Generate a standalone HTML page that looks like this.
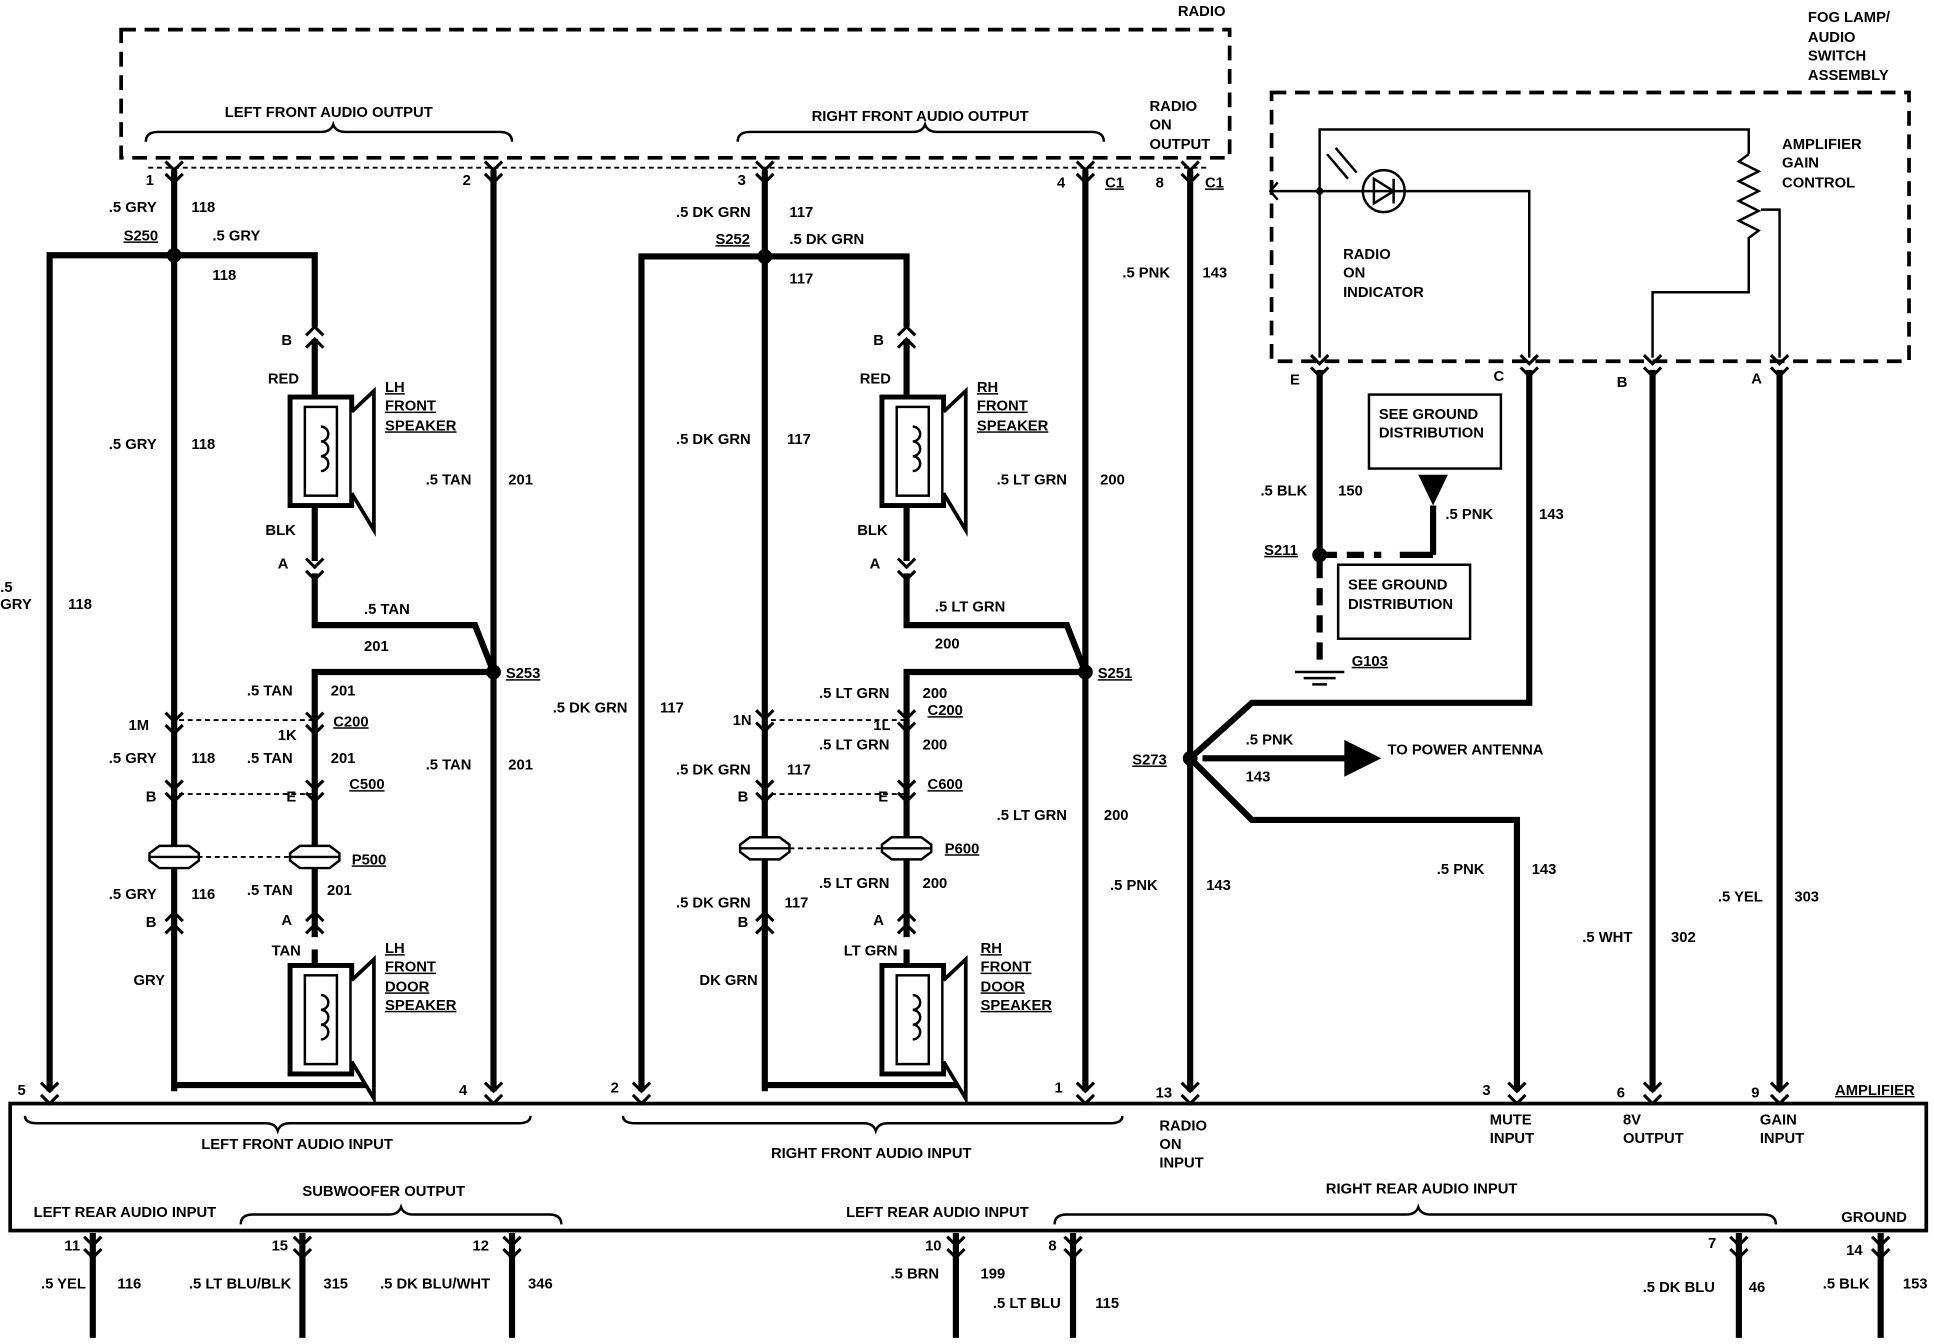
<!DOCTYPE html>
<html><head><meta charset="utf-8"><style>
html,body{margin:0;padding:0;background:#fff;}
svg{display:block}
text{font-family:"Liberation Sans",sans-serif;font-weight:bold;font-size:12px;fill:#000}
text.u{text-decoration:underline}
</style></head><body>
<svg width="1934" height="1344" viewBox="0 0 1568 1090" xmlns="http://www.w3.org/2000/svg">
<defs>
<g id="ch"><path d="M-7,-7 L0,0 L7,-7 M-7,3 L0,10 L7,3" fill="none" stroke="#000" stroke-width="2.5"/></g>
<g id="cu"><path d="M-7,7 L0,0 L7,7 M-7,-3 L0,-10 L7,-3" fill="none" stroke="#000" stroke-width="2.5"/></g>
<g id="spk"><rect x="0" y="0" width="50" height="88" fill="#fff" stroke="#000" stroke-width="4"/><rect x="12" y="8" width="26" height="72" fill="none" stroke="#000" stroke-width="2"/><path d="M25,24 a6,6 0 1 1 0,12 a6,6 0 1 1 0,12 a6,6 0 1 1 0,12" fill="none" stroke="#000" stroke-width="2"/><path d="M50,12 L68,-5 L68,108 L50,78" fill="#fff" stroke="#000" stroke-width="3"/></g>
<g id="plug"><path d="M-20,-3 L-12,-9 L12,-9 L20,-3 L20,3 L12,9 L-12,9 L-20,3 Z" fill="#fff" stroke="#000" stroke-width="2"/><line x1="-20" y1="0" x2="20" y2="0" stroke="#000" stroke-width="2"/></g>
</defs>
<g fill="none" stroke="#000" stroke-dasharray="12,7" stroke-width="3">
<rect x="98" y="24" width="899" height="104"/>
<rect x="1031" y="75" width="517" height="218"/>
</g>
<rect x="8" y="895" width="1554" height="103" fill="none" stroke="#000" stroke-width="3"/>
<g fill="none" stroke="#000" stroke-width="1.5" stroke-dasharray="4,3">
<line x1="120" y1="136" x2="980" y2="136"/>
<line x1="145" y1="584" x2="255" y2="584"/><line x1="145" y1="644" x2="255" y2="644"/><line x1="160" y1="695" x2="235" y2="695"/>
<line x1="625" y1="584" x2="735" y2="584"/><line x1="625" y1="644" x2="735" y2="644"/><line x1="640" y1="688" x2="715" y2="688"/>
</g>
<g fill="none" stroke="#000" stroke-width="5">
<line x1="141" y1="138" x2="141" y2="885"/><path d="M40,885 V207 H255 V265"/><line x1="255" y1="275" x2="255" y2="320"/><line x1="255" y1="410" x2="255" y2="455"/>
<path d="M255,465 V507 H385 L400,545"/><line x1="400" y1="138" x2="400" y2="885"/><path d="M400,545 H255 V760"/><path d="M255,770 V785"/><path d="M141,880 H300"/>
<line x1="620" y1="138" x2="620" y2="885"/><path d="M520,885 V208 H735 V265"/><line x1="735" y1="275" x2="735" y2="320"/><line x1="735" y1="410" x2="735" y2="455"/>
<path d="M735,465 V507 H865 L880,545"/><line x1="880" y1="138" x2="880" y2="885"/><path d="M880,545 H735 V760"/><path d="M735,770 V785"/><path d="M620,880 H780"/>
<line x1="965" y1="138" x2="965" y2="885"/>
<path d="M965,615 L1015,570 H1240 V300"/><path d="M965,615 L1015,665 H1230 V885"/><path d="M975,615 H1095"/>
<line x1="1070" y1="300" x2="1070" y2="450"/><line x1="1340" y1="300" x2="1340" y2="885"/><line x1="1443" y1="300" x2="1443" y2="885"/>
<line x1="1162" y1="410" x2="1162" y2="450"/><line x1="1162" y1="450" x2="1135" y2="450"/>
<line x1="75" y1="1000" x2="75" y2="1085"/><line x1="245" y1="1000" x2="245" y2="1085"/><line x1="415" y1="1000" x2="415" y2="1085"/>
<line x1="775" y1="1000" x2="775" y2="1085"/><line x1="870" y1="1000" x2="870" y2="1085"/><line x1="1410" y1="1000" x2="1410" y2="1085"/><line x1="1525" y1="1000" x2="1525" y2="1085"/>
</g>
<path d="M1090,600 L1120,615 L1090,630 Z"/>
<path d="M1070,450 H1120" stroke="#000" stroke-width="5" stroke-dasharray="14,8"/>
<path d="M1070,455 V540" stroke="#000" stroke-width="5" stroke-dasharray="14,8"/>
<path d="M1150,385 L1174,385 L1162,410 Z"/>
<path d="M1050,545 H1090 M1057,550 H1083 M1064,555 H1076" stroke="#000" stroke-width="2"/>
<rect x="1110" y="320" width="107" height="60" fill="#fff" stroke="#000" stroke-width="2"/>
<rect x="1085" y="458" width="107" height="60" fill="#fff" stroke="#000" stroke-width="2"/>
<g fill="none" stroke="#000" stroke-width="2">
<path d="M1070,290 V155 H1030 M1036,148 L1030,155 L1036,162"/><path d="M1070,155 V105 H1418 V125"/><path d="M1070,155 H1240 V290"/>
<path d="M1418,125 l-8,6 l16,8 l-16,8 l16,8 l-16,8 l16,8 l-16,8 l16,8 l-8,6 V237 H1340 V290"/><path d="M1428,170 H1443 V290"/>
<circle cx="1122" cy="155" r="17"/><path d="M1114,145 V165 L1130,155 Z M1130,145 V165"/><path d="M1100,140 L1083,120 M1093,145 L1076,125"/>
</g>
<circle cx="1070" cy="155" r="3"/>
<g>
<circle cx="141" cy="207" r="6"/><circle cx="400" cy="545" r="6"/><circle cx="620" cy="208" r="6"/><circle cx="880" cy="545" r="6"/><circle cx="965" cy="615" r="6"/><circle cx="1070" cy="450" r="6"/>
</g>
<use href="#spk" x="235" y="322"/><use href="#spk" x="235" y="783"/><use href="#spk" x="715" y="322"/><use href="#spk" x="715" y="783"/>
<use href="#plug" x="141" y="695"/><use href="#plug" x="255" y="695"/><use href="#plug" x="620" y="688"/><use href="#plug" x="735" y="688"/>
<g>
<use href="#ch" x="141" y="138"/><use href="#ch" x="400" y="138"/><use href="#ch" x="620" y="138"/><use href="#ch" x="880" y="138"/><use href="#ch" x="965" y="138"/>
<use href="#cu" x="255" y="275"/><use href="#ch" x="255" y="460"/><use href="#cu" x="735" y="275"/><use href="#ch" x="735" y="460"/>
<use href="#ch" x="141" y="585"/><use href="#ch" x="255" y="585"/><use href="#ch" x="141" y="640"/><use href="#ch" x="255" y="640"/>
<use href="#cu" x="141" y="750"/><use href="#cu" x="255" y="750"/>
<use href="#ch" x="620" y="583"/><use href="#ch" x="735" y="583"/><use href="#ch" x="620" y="640"/><use href="#ch" x="735" y="640"/>
<use href="#cu" x="620" y="750"/><use href="#cu" x="735" y="750"/>
<use href="#ch" x="40" y="885"/><use href="#ch" x="400" y="885"/><use href="#ch" x="520" y="885"/><use href="#ch" x="880" y="885"/><use href="#ch" x="965" y="885"/><use href="#ch" x="1230" y="885"/><use href="#ch" x="1340" y="885"/><use href="#ch" x="1443" y="885"/>
<use href="#ch" x="1070" y="295"/><use href="#ch" x="1240" y="295"/><use href="#ch" x="1340" y="295"/><use href="#ch" x="1443" y="295"/>
<use href="#ch" x="75" y="1010"/><use href="#ch" x="245" y="1010"/><use href="#ch" x="415" y="1010"/><use href="#ch" x="775" y="1010"/><use href="#ch" x="870" y="1010"/><use href="#ch" x="1410" y="1010"/><use href="#ch" x="1525" y="1010"/>
</g>
<g fill="none" stroke="#000" stroke-width="2">
<path d="M118,115 q0,-8 10,-8 H260 q8,0 10,-6 q2,6 10,6 H405 q10,0 10,8"/>
<path d="M598,115 q0,-8 10,-8 H740 q8,0 10,-6 q2,6 10,6 H885 q10,0 10,8"/>
<path d="M20,905 q0,6 10,6 H215 q8,0 10,6 q2,-6 10,-6 H420 q10,0 10,-6"/>
<path d="M505,905 q0,6 10,6 H700 q8,0 10,6 q2,-6 10,-6 H900 q10,0 10,-6"/>
<path d="M195,993 q0,-8 10,-8 H315 q8,0 10,-6 q2,6 10,6 H445 q10,0 10,8"/>
<path d="M855,993 q0,-8 10,-8 H1140 q8,0 10,-6 q2,6 10,6 H1430 q10,0 10,8"/>
</g>
<g>
<text x="955" y="13">RADIO</text>
<text x="1466" y="18">FOG LAMP/</text><text x="1466" y="34">AUDIO</text><text x="1466" y="49">SWITCH</text><text x="1466" y="65">ASSEMBLY</text>
<text x="182" y="95">LEFT FRONT AUDIO OUTPUT</text><text x="658" y="98">RIGHT FRONT AUDIO OUTPUT</text>
<text x="932" y="90">RADIO</text><text x="932" y="105">ON</text><text x="932" y="121">OUTPUT</text>
<text x="118" y="150">1</text><text x="375" y="150">2</text><text x="598" y="150">3</text><text x="857" y="152">4</text><text class="u" x="896" y="152">C1</text><text x="937" y="152">8</text><text class="u" x="977" y="152">C1</text>
<text x="88" y="172">.5 GRY</text><text x="155" y="172">118</text><text class="u" x="100" y="195">S250</text><text x="172" y="195">.5 GRY</text><text x="172" y="227">118</text>
<text x="548" y="176">.5 DK GRN</text><text x="640" y="176">117</text><text class="u" x="580" y="198">S252</text><text x="640" y="198">.5 DK GRN</text><text x="640" y="230">117</text>
<text x="910" y="225">.5 PNK</text><text x="975" y="225">143</text>
<text x="228" y="280">B</text><text x="708" y="280">B</text>
<text x="217" y="311">RED</text><text x="697" y="311">RED</text>
<text class="u" x="312" y="318">LH</text><text class="u" x="312" y="333">FRONT</text><text class="u" x="312" y="349">SPEAKER</text>
<text class="u" x="792" y="318">RH</text><text class="u" x="792" y="333">FRONT</text><text class="u" x="792" y="349">SPEAKER</text>
<text x="88" y="364">.5 GRY</text><text x="155" y="364">118</text><text x="548" y="360">.5 DK GRN</text><text x="638" y="360">117</text>
<text x="345" y="393">.5 TAN</text><text x="412" y="393">201</text><text x="808" y="393">.5 LT GRN</text><text x="892" y="393">200</text>
<text x="215" y="434">BLK</text><text x="695" y="434">BLK</text><text x="225" y="461">A</text><text x="705" y="461">A</text>
<text x="0" y="480">.5</text><text x="0" y="494">GRY</text><text x="55" y="494">118</text><text x="295" y="498">.5 TAN</text><text x="758" y="496">.5 LT GRN</text>
<text x="295" y="528">201</text><text x="758" y="526">200</text>
<text class="u" x="410" y="550">S253</text><text class="u" x="890" y="550">S251</text>
<text x="200" y="564">.5 TAN</text><text x="268" y="564">201</text><text x="664" y="566">.5 LT GRN</text><text x="748" y="566">200</text>
<text x="448" y="578">.5 DK GRN</text><text x="535" y="578">117</text>
<text x="104" y="592">1M</text><text class="u" x="270" y="589">C200</text><text x="225" y="600">1K</text><text x="594" y="588">1N</text><text class="u" x="752" y="580">C200</text><text x="708" y="592">1L</text>
<text x="88" y="619">.5 GRY</text><text x="155" y="619">118</text><text x="200" y="619">.5 TAN</text><text x="268" y="619">201</text>
<text x="548" y="628">.5 DK GRN</text><text x="638" y="628">117</text><text x="664" y="608">.5 LT GRN</text><text x="748" y="608">200</text>
<text x="345" y="624">.5 TAN</text><text x="412" y="624">201</text><text class="u" x="283" y="640">C500</text><text class="u" x="752" y="640">C600</text>
<text x="118" y="650">B</text><text x="232" y="650">E</text><text x="598" y="650">B</text><text x="712" y="650">E</text>
<text x="1010" y="604">.5 PNK</text><text x="1010" y="634">143</text><text class="u" x="918" y="620">S273</text><text x="1125" y="612">TO POWER ANTENNA</text>
<text x="808" y="665">.5 LT GRN</text><text x="895" y="665">200</text>
<text class="u" x="285" y="701">P500</text><text class="u" x="766" y="692">P600</text>
<text x="88" y="729">.5 GRY</text><text x="155" y="729">116</text><text x="200" y="726">.5 TAN</text><text x="265" y="726">201</text>
<text x="548" y="736">.5 DK GRN</text><text x="636" y="736">117</text><text x="664" y="720">.5 LT GRN</text><text x="748" y="720">200</text>
<text x="900" y="722">.5 PNK</text><text x="978" y="722">143</text><text x="1165" y="709">.5 PNK</text><text x="1242" y="709">143</text>
<text x="1393" y="731">.5 YEL</text><text x="1455" y="731">303</text><text x="1283" y="764">.5 WHT</text><text x="1355" y="764">302</text>
<text x="118" y="752">B</text><text x="228" y="750">A</text><text x="598" y="752">B</text><text x="708" y="750">A</text>
<text x="220" y="775">TAN</text><text x="684" y="775">LT GRN</text>
<text class="u" x="312" y="773">LH</text><text class="u" x="312" y="788">FRONT</text><text class="u" x="312" y="804">DOOR</text><text class="u" x="312" y="819">SPEAKER</text>
<text class="u" x="795" y="773">RH</text><text class="u" x="795" y="788">FRONT</text><text class="u" x="795" y="804">DOOR</text><text class="u" x="795" y="819">SPEAKER</text>
<text x="108" y="799">GRY</text><text x="567" y="799">DK GRN</text>
<text x="14" y="888">5</text><text x="372" y="888">4</text><text x="495" y="886">2</text><text x="855" y="886">1</text><text x="937" y="890">13</text><text x="1202" y="888">3</text><text x="1311" y="890">6</text><text x="1420" y="890">9</text><text class="u" x="1488" y="888">AMPLIFIER</text>
<text x="163" y="932">LEFT FRONT AUDIO INPUT</text><text x="625" y="939">RIGHT FRONT AUDIO INPUT</text>
<text x="940" y="917">RADIO</text><text x="940" y="932">ON</text><text x="940" y="947">INPUT</text>
<text x="1208" y="912">MUTE</text><text x="1208" y="927">INPUT</text><text x="1316" y="912">8V</text><text x="1316" y="927">OUTPUT</text><text x="1427" y="912">GAIN</text><text x="1427" y="927">INPUT</text>
<text x="27" y="987">LEFT REAR AUDIO INPUT</text><text x="245" y="970">SUBWOOFER OUTPUT</text><text x="686" y="987">LEFT REAR AUDIO INPUT</text><text x="1075" y="968">RIGHT REAR AUDIO INPUT</text><text x="1493" y="991">GROUND</text>
<text x="52" y="1014">11</text><text x="220" y="1014">15</text><text x="383" y="1014">12</text><text x="750" y="1014">10</text><text x="850" y="1014">8</text><text x="1385" y="1012">7</text><text x="1497" y="1018">14</text>
<text x="33" y="1045">.5 YEL</text><text x="95" y="1045">116</text><text x="153" y="1045">.5 LT BLU/BLK</text><text x="262" y="1045">315</text><text x="308" y="1045">.5 DK BLU/WHT</text><text x="428" y="1045">346</text>
<text x="722" y="1037">.5 BRN</text><text x="795" y="1037">199</text><text x="805" y="1061">.5 LT BLU</text><text x="888" y="1061">115</text>
<text x="1332" y="1048">.5 DK BLU</text><text x="1418" y="1048">46</text><text x="1478" y="1045">.5 BLK</text><text x="1543" y="1045">153</text>
<text x="1089" y="210">RADIO</text><text x="1089" y="225">ON</text><text x="1089" y="241">INDICATOR</text>
<text x="1445" y="121">AMPLIFIER</text><text x="1445" y="136">GAIN</text><text x="1445" y="152">CONTROL</text>
<text x="1046" y="312">E</text><text x="1211" y="309">C</text><text x="1311" y="314">B</text><text x="1420" y="311">A</text>
<text x="1118" y="340">SEE GROUND</text><text x="1118" y="355">DISTRIBUTION</text><text x="1093" y="478">SEE GROUND</text><text x="1093" y="494">DISTRIBUTION</text>
<text x="1022" y="402">.5 BLK</text><text x="1085" y="402">150</text><text x="1172" y="421">.5 PNK</text><text x="1248" y="421">143</text>
<text class="u" x="1025" y="450">S211</text><text class="u" x="1096" y="540">G103</text>
</g>
</svg>
</body></html>
